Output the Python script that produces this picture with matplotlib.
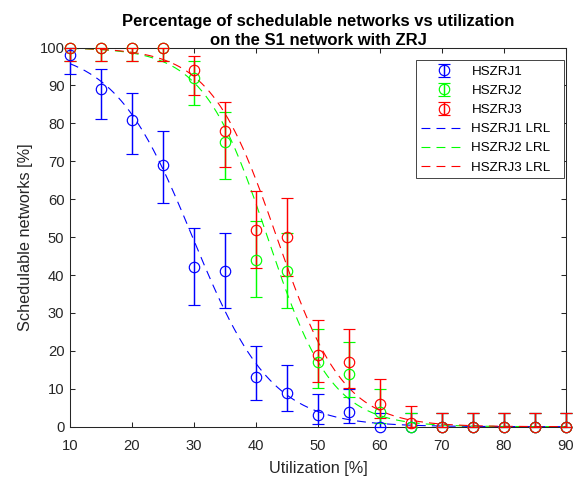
import numpy as np
import matplotlib
matplotlib.use('Agg')
import matplotlib.pyplot as plt
from matplotlib.patches import Rectangle

# ---------------- data ----------------
utilization = [10, 15, 20, 25, 30, 35, 40, 45, 50, 55, 60, 65, 70, 75, 80, 85, 90]

hszrj1 = [98, 89, 81, 69, 42, 41, 13, 9, 3, 4, 0, 0, 0, 0, 0, 0, 0]
hszrj1_lo = [93.0, 81.2, 71.9, 59.0, 32.2, 31.3, 7.1, 4.2, 0.6, 1.1, 0, 0, 0, 0, 0, 0, 0]
hszrj1_hi = [99.8, 94.4, 88.1, 77.9, 52.3, 51.2, 21.2, 16.4, 8.5, 9.9, 3.6, 3.6, 3.6, 3.6, 3.6, 3.6, 3.6]

hszrj2 = [100, 100, 100, 100, 92, 75, 44, 41, 17, 14, 4, 0, 0, 0, 0, 0, 0]
hszrj2_lo = [96.4, 96.4, 96.4, 96.4, 84.8, 65.3, 34.1, 31.3, 10.2, 7.9, 1.1, 0, 0, 0, 0, 0, 0]
hszrj2_hi = [100, 100, 100, 100, 96.5, 83.1, 54.3, 51.2, 25.8, 22.4, 9.9, 3.6, 3.6, 3.6, 3.6, 3.6, 3.6]

hszrj3 = [100, 100, 100, 100, 94, 78, 52, 50, 19, 17, 6, 1, 0, 0, 0, 0, 0]
hszrj3_lo = [96.4, 96.4, 96.4, 96.4, 87.4, 68.6, 41.8, 39.8, 11.8, 10.2, 2.2, 0.03, 0, 0, 0, 0, 0]
hszrj3_hi = [100, 100, 100, 100, 97.8, 85.7, 62.1, 60.2, 28.1, 25.8, 12.6, 5.4, 3.6, 3.6, 3.6, 3.6, 3.6]

series_names = ["HSZRJ1", "HSZRJ2", "HSZRJ3"]
series_colors = ["#0000ff", "#00ff00", "#ff0000"]
trials = 100


def logistic_fit(x, pct, n):
    """Logistic regression (binomial MLE via Newton/IRLS) of the data."""
    x = np.asarray(x, float)
    y = np.asarray(pct, float) / 100.0
    X = np.column_stack([np.ones_like(x), x])
    beta = np.zeros(2)
    for _ in range(200):
        mu = 1.0 / (1.0 + np.exp(-(X @ beta)))
        W = n * mu * (1 - mu)
        H = X.T @ (W[:, None] * X)
        g = X.T @ (n * (y - mu))
        step = np.linalg.solve(H, g)
        beta = beta + step
        if np.max(np.abs(step)) < 1e-10:
            break
    return beta


plt.rcParams['font.family'] = ['Liberation Sans', 'DejaVu Sans']

fig = plt.figure(figsize=(5.8, 4.78), dpi=100)
ax = fig.add_axes([70 / 580, 1 - 426.7 / 478, 496 / 580, 379.2 / 478])

axcol = '#262626'
lw = 0.8

vals = [hszrj1, hszrj2, hszrj3]
los = [hszrj1_lo, hszrj2_lo, hszrj3_lo]
his = [hszrj1_hi, hszrj2_hi, hszrj3_hi]

handles = []
for name, v, lo, hi, c in zip(series_names, vals, los, his, series_colors):
    v = np.asarray(v, float)
    yerr = np.vstack([v - np.asarray(lo), np.asarray(hi) - v])
    h = ax.errorbar(utilization, v, yerr=yerr, fmt='o', color=c, ecolor=c, mfc='none',
                    mec=c, ms=7.5, mew=0.85, elinewidth=1.05, capsize=4.3,
                    capthick=1.05, label=name, clip_on=False, zorder=3)
    handles.append(h)

xs = np.linspace(10, 90, 400)
for name, v, c in zip(series_names, vals, series_colors):
    b = logistic_fit(utilization, v, trials)
    fit = 100.0 / (1.0 + np.exp(-(b[0] + b[1] * xs)))
    ln, = ax.plot(xs, fit, color=c, lw=lw, dashes=(8, 5.5), label=name + " LRL",
                  zorder=2)
    handles.append(ln)

ax.set_xlim(10, 90)
ax.set_ylim(0, 100)
ax.set_xticks(np.arange(10, 91, 10))
ax.set_yticks(np.arange(0, 101, 10))

for s in ax.spines.values():
    s.set_color(axcol)
    s.set_linewidth(0.75)
ax.tick_params(direction='in', length=3.3, width=0.75, color=axcol,
               labelcolor=axcol, labelsize=10.6, top=True, right=True)
ax.tick_params(axis='x', pad=9)
ax.tick_params(axis='y', pad=4)

ax.set_xlabel("Utilization [%]", fontsize=11.7, color=axcol, labelpad=5.5)
ax.set_ylabel("Schedulable networks [%]", fontsize=11.7, color=axcol, labelpad=4.5)
ax.set_title("Percentage of schedulable networks vs utilization\non the S1 network with ZRJ",
             fontsize=12, fontweight='bold', color='black', pad=1.7, linespacing=1.38)

# legend box (MATLAB style, extra room on the right)
x0 = (415.7 - 70) / 496
x1 = (564.0 - 70) / 496
ytop = 1 - (60.0 - 47.5) / 379.2
ybot = 1 - (178.3 - 47.5) / 379.2
ax.add_patch(Rectangle((x0, ybot), x1 - x0, ytop - ybot, transform=ax.transAxes,
                       facecolor='white', edgecolor=axcol, linewidth=0.6,
                       zorder=4.5, clip_on=False))

leg = ax.legend(handles=handles, loc='upper left', bbox_to_anchor=(x0, ytop),
                borderaxespad=0, fontsize=9.6, frameon=False, handlelength=3.38,
                handletextpad=0.38, labelspacing=0.51, borderpad=0.42)
leg.set_zorder(5)

fig.savefig("out.png", dpi=100)
